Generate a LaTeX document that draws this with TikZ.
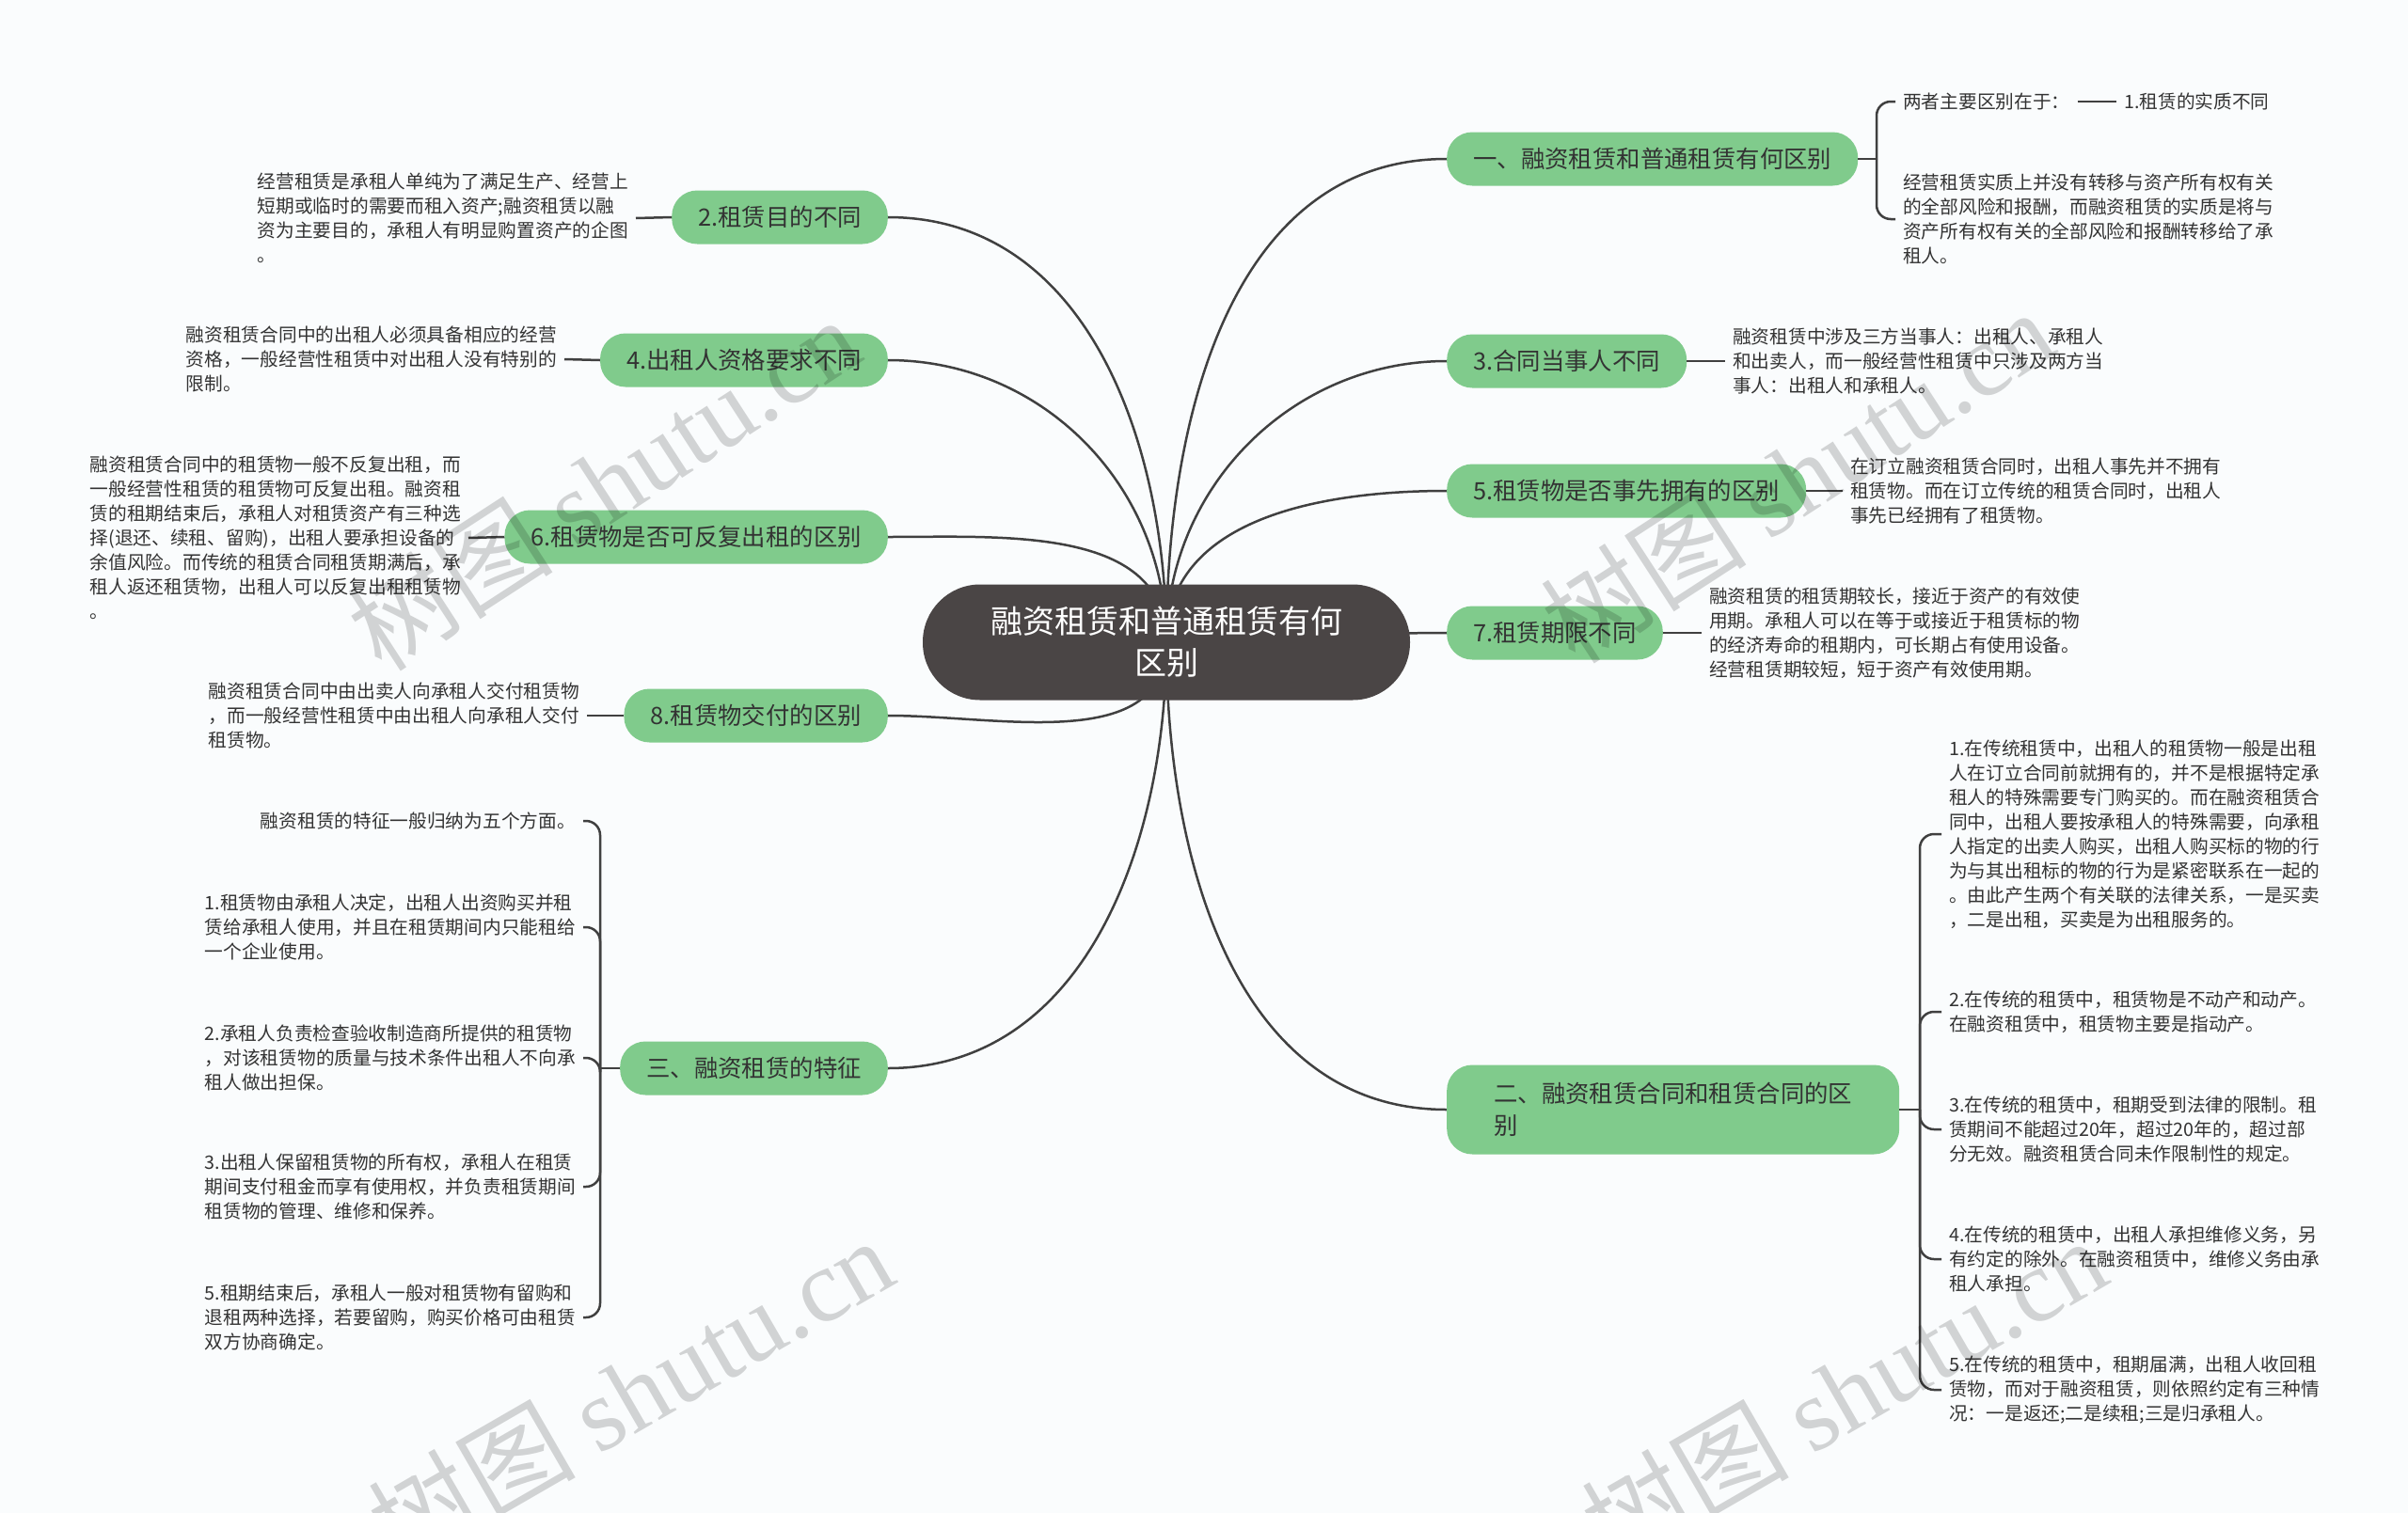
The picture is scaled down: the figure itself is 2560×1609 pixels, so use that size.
\documentclass[tikz,border=0pt]{standalone}
\usepackage{fontspec}
\setmainfont{Noto Sans CJK SC}
\newfontfamily\wmfont{Liberation Serif}
\usetikzlibrary{backgrounds}
\pgfdeclarelayer{back0}
\pgfsetlayers{back0,background,main}
\definecolor{bgc}{RGB}{250,252,253}
\definecolor{grn}{RGB}{128,203,140}
\definecolor{darkc}{RGB}{74,69,69}
\definecolor{txt}{RGB}{51,51,51}
\definecolor{lnc}{RGB}{64,64,64}
\tikzset{
 root/.style={fill=darkc, text=white, rounded corners=61, minimum width=518, minimum height=123, align=center, font=\fontsize{34}{44}\selectfont, inner sep=0},
 topic/.style={fill=grn, text=txt, rounded corners=27, minimum height=57, inner xsep=28, inner ysep=0, font=\fontsize{25.4}{34}\selectfont},
 leaf/.style={text=txt, align=left, inner xsep=8, inner ysep=2, font=\fontsize{19.7}{26}\selectfont},
 link/.style={draw=lnc, line width=2.5},
 wm/.style={text=black, opacity=0.16, font=\fontsize{110}{110}\selectfont, inner sep=0},
}
\begin{document}
\begin{tikzpicture}[x=1pt,y=-1pt]
\begin{pgfonlayer}{back0}
\fill[bgc] (0,0) rectangle (2560,1609);
\end{pgfonlayer}
\useasboundingbox (0,0) rectangle (2560,1609);
% root
\node[root] (c) at (1240,683) {融资租赁和普通租赁有何\\区别};
% right topics
\node[topic, anchor=west] (r1) at (1538,169) {一、融资租赁和普通租赁有何区别};
\node[topic, anchor=west] (r2) at (1538,384) {3.合同当事人不同};
\node[topic, anchor=west] (r3) at (1538,522) {5.租赁物是否事先拥有的区别};
\node[topic, anchor=west] (r4) at (1538,673) {7.租赁期限不同};
\node[topic, anchor=west, align=left, inner xsep=50, minimum height=95] (r5) at (1538,1180) {二、融资租赁合同和租赁合同的区\\别};
% left topics
\node[topic, anchor=east] (l1) at (944,231) {2.租赁目的不同};
\node[topic, anchor=east] (l2) at (944,383) {4.出租人资格要求不同};
\node[topic, anchor=east] (l3) at (944,571) {6.租赁物是否可反复出租的区别};
\node[topic, anchor=east] (l4) at (944,761) {8.租赁物交付的区别};
\node[topic, anchor=east] (l5) at (944,1136) {三、融资租赁的特征};
% right leaves
\node[leaf, anchor=west] (r1a) at (2015,108) {两者主要区别在于：};
\node[leaf, anchor=west] (r1a2) at (2250,108) {1.租赁的实质不同};
\node[leaf, anchor=west] (r1b) at (2015,233) {经营租赁实质上并没有转移与资产所有权有关\\的全部风险和报酬，而融资租赁的实质是将与\\资产所有权有关的全部风险和报酬转移给了承\\租人。};
\node[leaf, anchor=west] (r2a) at (1834,384) {融资租赁中涉及三方当事人：出租人、承租人\\和出卖人，而一般经营性租赁中只涉及两方当\\事人：出租人和承租人。};
\node[leaf, anchor=west] (r3a) at (1959,522) {在订立融资租赁合同时，出租人事先并不拥有\\租赁物。而在订立传统的租赁合同时，出租人\\事先已经拥有了租赁物。};
\node[leaf, anchor=west] (r4a) at (1809,673) {融资租赁的租赁期较长，接近于资产的有效使\\用期。承租人可以在等于或接近于租赁标的物\\的经济寿命的租期内，可长期占有使用设备。\\经营租赁期较短，短于资产有效使用期。};
\node[leaf, anchor=west] (r5a) at (2064,887) {1.在传统租赁中，出租人的租赁物一般是出租\\人在订立合同前就拥有的，并不是根据特定承\\租人的特殊需要专门购买的。而在融资租赁合\\同中，出租人要按承租人的特殊需要，向承租\\人指定的出卖人购买，出租人购买标的物的行\\为与其出租标的物的行为是紧密联系在一起的\\。由此产生两个有关联的法律关系，一是买卖\\，二是出租，买卖是为出租服务的。};
\node[leaf, anchor=west] (r5b) at (2064,1076) {2.在传统的租赁中，租赁物是不动产和动产。\\在融资租赁中，租赁物主要是指动产。};
\node[leaf, anchor=west] (r5c) at (2064,1201) {3.在传统的租赁中，租期受到法律的限制。租\\赁期间不能超过20年，超过20年的，超过部\\分无效。融资租赁合同未作限制性的规定。};
\node[leaf, anchor=west] (r5d) at (2064,1339) {4.在传统的租赁中，出租人承担维修义务，另\\有约定的除外。在融资租赁中，维修义务由承\\租人承担。};
\node[leaf, anchor=west] (r5e) at (2064,1478) {5.在传统的租赁中，租期届满，出租人收回租\\赁物，而对于融资租赁，则依照约定有三种情\\况：一是返还;二是续租;三是归承租人。};
% left leaves
\node[leaf, anchor=east] (l1a) at (676,232) {经营租赁是承租人单纯为了满足生产、经营上\\短期或临时的需要而租入资产;融资租赁以融\\资为主要目的，承租人有明显购置资产的企图\\。};
\node[leaf, anchor=east] (l2a) at (600,382) {融资租赁合同中的出租人必须具备相应的经营\\资格，一般经营性租赁中对出租人没有特别的\\限制。};
\node[leaf, anchor=east] (l3a) at (498,572) {融资租赁合同中的租赁物一般不反复出租，而\\一般经营性租赁的租赁物可反复出租。融资租\\赁的租期结束后，承租人对租赁资产有三种选\\择(退还、续租、留购)，出租人要承担设备的\\余值风险。而传统的租赁合同租赁期满后，承\\租人返还租赁物，出租人可以反复出租租赁物\\。};
\node[leaf, anchor=east] (l4a) at (624,761) {融资租赁合同中由出卖人向承租人交付租赁物\\，而一般经营性租赁中由出租人向承租人交付\\租赁物。};
\node[leaf, anchor=east] (l5a) at (620,873) {融资租赁的特征一般归纳为五个方面。};
\node[leaf, anchor=east] (l5b) at (620,986) {1.租赁物由承租人决定，出租人出资购买并租\\赁给承租人使用，并且在租赁期间内只能租给\\一个企业使用。};
\node[leaf, anchor=east] (l5c) at (620,1125) {2.承租人负责检查验收制造商所提供的租赁物\\，对该租赁物的质量与技术条件出租人不向承\\租人做出担保。};
\node[leaf, anchor=east] (l5d) at (620,1262) {3.出租人保留租赁物的所有权，承租人在租赁\\期间支付租金而享有使用权，并负责租赁期间\\租赁物的管理、维修和保养。};
\node[leaf, anchor=east] (l5e) at (620,1401) {5.租期结束后，承租人一般对租赁物有留购和\\退租两种选择，若要留购，购买价格可由租赁\\双方协商确定。};
% junctions
\coordinate (j1) at (1995,169);
\coordinate (j5) at (2041,1180);
\coordinate (j9) at (638,1136);
\begin{pgfonlayer}{background}
\draw[link] (c.center) to[out=90,in=180] (r1.west);
\draw[link] (c.center) to[out=90,in=180] (r2.west);
\draw[link] (c.center) to[out=90,in=180] (r3.west);
\draw[link] (c.center) to[out=0,in=180] (r4.west);
\draw[link] (c.center) to[out=-90,in=180] (r5.west);
\draw[link] (c.center) to[out=90,in=0] (l1.east);
\draw[link] (c.center) to[out=90,in=0] (l2.east);
\draw[link] (c.center) to[out=90,in=0] (l3.east);
\draw[link] (c.center) to[out=-90,in=0] (l4.east);
\draw[link] (c.center) to[out=-90,in=0] (l5.east);
\end{pgfonlayer}
% topic to leaves
\draw[link] (r1.east) -- (j1);
\draw[link, rounded corners=15] (j1) |- (r1a.west);
\draw[link, rounded corners=15] (j1) |- (r1b.west);
\draw[link] (r1a.east) -- (r1a2.west);
\draw[link] (r2.east) -- (r2a.west);
\draw[link] (r3.east) -- (r3a.west);
\draw[link] (r4.east) -- (r4a.west);
\draw[link] (r5.east) -- (j5);
\foreach \n in {r5a,r5b,r5c,r5d,r5e} \draw[link, rounded corners=15] (j5) |- (\n.west);
\draw[link] (l1.west) -- (l1a.east);
\draw[link] (l2.west) -- (l2a.east);
\draw[link] (l3.west) -- (l3a.east);
\draw[link] (l4.west) -- (l4a.east);
\draw[link] (l5.west) -- (j9);
\foreach \n in {l5a,l5b,l5c,l5d,l5e} \draw[link, rounded corners=15] (j9) |- (\n.east);
% watermarks
\node[wm, rotate=33] (w1) at (641,514) {树图 {\wmfont shutu.cn}};
\node[wm, rotate=33] (w2) at (1910,506) {树图 {\wmfont shutu.cn}};
\node[wm, rotate=30] (w3) at (670,1480) {树图 {\wmfont shutu.cn}};
\node[wm, rotate=30] (w4) at (1960,1480) {树图 {\wmfont shutu.cn}};
\end{tikzpicture}
\end{document}
